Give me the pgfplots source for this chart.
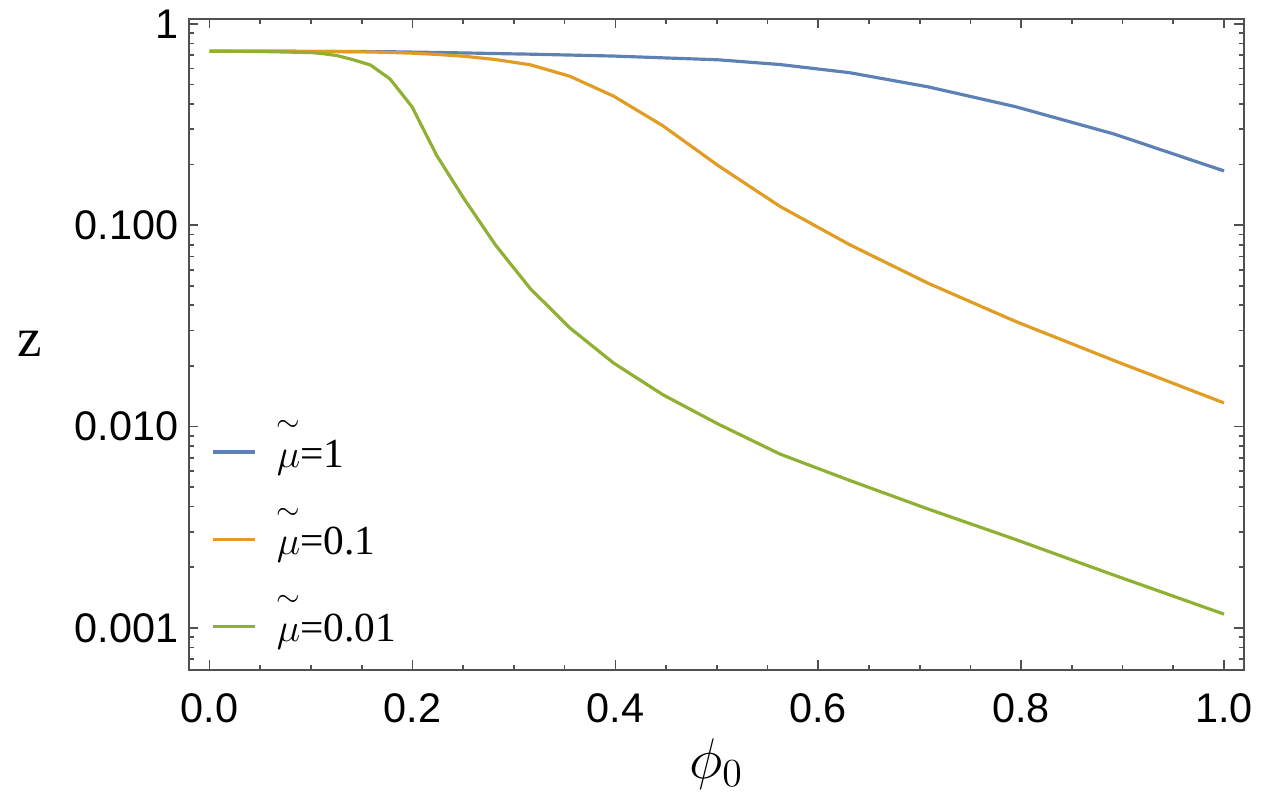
\documentclass[border=0pt]{standalone}
\usepackage{fontspec}
\setmainfont{Liberation Sans}
\newfontfamily\serif{Liberation Serif}
\usepackage{amsmath}
\usepackage{pgfplots}
\pgfplotsset{compat=1.18}
\usetikzlibrary{calc}
\definecolor{mBlue}{RGB}{94,129,181}
\definecolor{mOrange}{RGB}{225,156,36}
\definecolor{mGreen}{RGB}{143,176,50}
\definecolor{frameGray}{RGB}{80,80,80}
\newcommand{\mut}{$\overset{\sim}{\vphantom{l}\mu}$}

\begin{document}
\begin{tikzpicture}
\begin{axis}[
    name=ax,
    scale only axis,
    width=382.27pt, height=235.97pt,
    ymode=log,
    xmin=-0.0206, xmax=1.0196,
    ymin=6.18e-4, ymax=1.062,
    xtick={0,0.2,0.4,0.6,0.8,1},
    xticklabels={0.0,0.2,0.4,0.6,0.8,1.0},
    minor x tick num=3,
    ytick={0.001,0.01,0.1,1},
    yticklabels={0.001,0.010,0.100,1},
    minor ytick={0.0007,0.0008,0.0009,0.002,0.003,0.004,0.005,0.006,0.007,0.008,0.009,
                 0.02,0.03,0.04,0.05,0.06,0.07,0.08,0.09,0.2,0.3,0.4,0.5,0.6,0.7,0.8,0.9},
    tick align=inside,
    major tick length=3.5pt, minor tick length=1.8pt,
    axis line style={frameGray, line width=0.75pt},
    every tick/.style={frameGray, line width=0.6pt},
    tick label style={font=\fontsize{15}{18}\selectfont},
    xticklabel style={yshift=-5pt},
    yticklabel style={inner xsep=3.6pt},
    xlabel={\fontsize{20}{24}\selectfont$\phi_0$},
    xlabel style={at={(axis description cs:0.5,-0.144)}, anchor=center},
    ylabel={\fontsize{20}{24}\selectfont\serif z},
    every axis y label/.style={at={(axis description cs:-0.1507,0.5)}, anchor=center},
    legend style={draw=none, fill=none, inner sep=0pt,
        at={(axis description cs:0.0207,0.363)}, anchor=north west,
        row sep=15.65pt, column sep=7.2pt,
        nodes={inner sep=0pt, text height=12pt, text depth=4pt},
        font=\fontsize{15}{18}\selectfont\serif},
    legend cell align=left,
    legend image code/.code={\draw[#1] (0pt,1.5pt) -- (15.5pt,1.5pt);},
]
\addplot[mBlue, line width=1.15pt] coordinates {
(0,0.731) (0.0316,0.731) (0.0562,0.731) (0.1,0.730) (0.1122,0.730) (0.1259,0.729)
(0.1413,0.729) (0.1585,0.728) (0.1778,0.727) (0.1995,0.724) (0.2239,0.721) (0.2512,0.717)
(0.2818,0.712) (0.3162,0.707) (0.3548,0.700) (0.3981,0.692) (0.4467,0.678) (0.5012,0.663)
(0.5623,0.628) (0.6310,0.572) (0.7079,0.487) (0.7943,0.388) (0.8913,0.284) (1.0,0.186)
};
\addlegendentry{\mut=1}
\addplot[mOrange, line width=1.15pt] coordinates {
(0,0.731) (0.0316,0.731) (0.0562,0.731) (0.1,0.730) (0.1122,0.729) (0.1259,0.728)
(0.1413,0.727) (0.1585,0.725) (0.1778,0.721) (0.1995,0.715) (0.2239,0.705) (0.2512,0.690)
(0.2818,0.665) (0.3162,0.626) (0.3548,0.550) (0.3981,0.438) (0.4467,0.312) (0.5012,0.198)
(0.5623,0.124) (0.6310,0.080) (0.7079,0.0516) (0.7943,0.0333) (0.8913,0.0213) (1.0,0.0131)
};
\addlegendentry{\mut=0.1}
\addplot[mGreen, line width=1.15pt] coordinates {
(0,0.731) (0.0316,0.730) (0.0562,0.728) (0.1,0.720) (0.1122,0.711) (0.1259,0.695)
(0.1413,0.664) (0.1585,0.625) (0.1778,0.533) (0.1995,0.388) (0.2239,0.222) (0.2512,0.1345)
(0.2818,0.0798) (0.3162,0.0484) (0.3548,0.031) (0.3981,0.0207) (0.4467,0.0144) (0.5012,0.0103)
(0.5623,0.0073) (0.6310,0.0054) (0.7079,0.0039) (0.7943,0.00275) (0.8913,0.00183) (1.0,0.00117)
};
\addlegendentry{\mut=0.01}
\end{axis}
\path ($(ax.south west)+(-68.35pt,-47.23pt)$) rectangle ($(ax.south west)+(385.61pt,242.7pt)$);
\end{tikzpicture}
\end{document}
